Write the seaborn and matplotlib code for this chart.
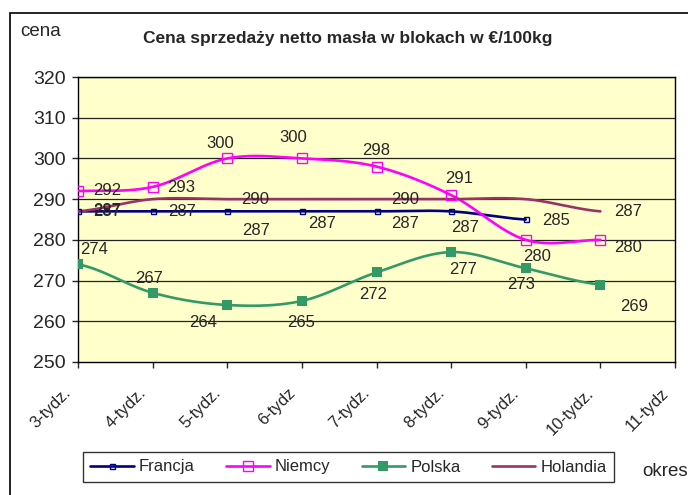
import numpy as np
import pandas as pd
import matplotlib
matplotlib.use('Agg')
import matplotlib.pyplot as plt
import matplotlib.transforms as mtransforms
from matplotlib.lines import Line2D
from matplotlib.patches import Rectangle
import seaborn as sns

weeks = ['3-tydz.', '4-tydz.', '5-tydz.', '6-tydz', '7-tydz.', '8-tydz.',
         '9-tydz.', '10-tydz.', '11-tydz']
francja = [287, 287, 287, 287, 287, 287, 285]
niemcy = [292, 293, 300, 300, 298, 291, 280, 280]
polska = [274, 267, 264, 265, 272, 277, 273, 269]
holandia = [287, 290, 290, 290, 290, 290, 290, 287]

series = {'Francja': francja, 'Niemcy': niemcy, 'Polska': polska, 'Holandia': holandia}
colors = {'Francja': '#000080', 'Niemcy': '#FF00FF', 'Polska': '#339966', 'Holandia': '#993366'}

# which points get a value label, and where (pixel offsets from the point)
label_offsets = {
    'Francja': [(29, 0), (29, 0), (29, -19), (20, -12), (29, -12), (14, -16), (30, -1)],
    'Niemcy': [(29, 0), (29, -1), (-7, 15), (-9, 21), (0, 16), (8, 17), (11, -17), (28, -8)],
    'Polska': [(16, 15), (-4, 14), (-24, -18), (-1, -22), (-3, -22), (12, -17), (-5, -16), (34, -22)],
    'Holandia': [(29, 1), None, (28, 0), None, (29, 0), None, None, (28, 0)],
}


def smooth(vals, n=25):
    # excel-like smoothed line (catmull-rom bezier through the points)
    y = np.asarray(vals, float)
    p = np.r_[y[0], y, y[-1]]
    t = np.linspace(0, 1, n)
    xs, ys = [], []
    for i in range(len(y) - 1):
        p0, p1, p2, p3 = p[i], p[i + 1], p[i + 2], p[i + 3]
        c1 = p1 + (p2 - p0) / 6
        c2 = p2 - (p3 - p1) / 6
        b = (1 - t) ** 3 * p1 + 3 * (1 - t) ** 2 * t * c1 + 3 * (1 - t) * t ** 2 * c2 + t ** 3 * p2
        xs.extend(i + t)
        ys.extend(b)
    return xs, ys


rows = []
for name, vals in series.items():
    xs, ys = smooth(vals)
    rows += [{'kraj': name, 'x': a, 'cena': b} for a, b in zip(xs, ys)]
curves = pd.DataFrame(rows)

sns.set_style('white')
plt.rcParams['font.family'] = ['Liberation Sans', 'DejaVu Sans']

fig = plt.figure(figsize=(6.88, 4.95), dpi=100)
ax = fig.add_axes([78 / 688, 1 - 362 / 495, 597 / 688, 285 / 495])
ax.set_facecolor('#FFFFCC')

for y in range(260, 321, 10):
    ax.axhline(y, color='#222222', lw=0.9, zorder=1)

sns.lineplot(data=curves, x='x', y='cena', hue='kraj', palette=colors,
             sort=False, estimator=None, lw=1.9, legend=False, ax=ax, zorder=3)

mk = {'Francja': dict(marker='s', ms=3.6, mfc='none', mew=1.0),
      'Niemcy': dict(marker='s', ms=6.5, mfc='none', mew=1.0),
      'Polska': dict(marker='s', ms=6.5, mfc='#339966', mew=0),
      'Holandia': dict(marker='None')}
for name, vals in series.items():
    ax.plot(range(len(vals)), vals, ls='none', color=colors[name], zorder=4, **mk[name])
    for i, v in enumerate(vals):
        off = label_offsets[name][i]
        if off is None:
            continue
        ax.annotate(str(v), (i, v), xytext=off, textcoords='offset pixels',
                    ha='center', va='center', fontsize=12, zorder=5)

ax.set_xlim(0, 8)
ax.set_ylim(250, 320)
ax.set_xticks(range(len(weeks)))
ax.set_xticklabels(weeks, rotation=45, ha='right', fontsize=12)
ax.set_yticks(range(250, 321, 10))
ax.tick_params(axis='y', labelsize=14, length=4, width=1, pad=5, left=True, direction='out')
ax.tick_params(axis='x', length=4, width=1, pad=13, bottom=True, direction='out')
shift = mtransforms.ScaledTranslation(-4 / 100, 0, fig.dpi_scale_trans)
for lab in ax.get_xticklabels():
    lab.set_transform(lab.get_transform() + shift)
ax.set_xlabel('')
ax.set_ylabel('')
for s in ax.spines.values():
    s.set_color('black')
    s.set_linewidth(1)

fig.text(348 / 688, 1 - 38 / 495, 'Cena sprzedaży netto masła w blokach w €/100kg',
         ha='center', va='center', fontsize=12.5, fontweight='bold')
fig.text(41 / 688, 1 - 32 / 495, 'cena', ha='center', va='center', fontsize=13.5)
fig.text(642 / 688, 1 - 472 / 495, 'okres', ha='left', va='center', fontsize=13.5)

handles = [Line2D([], [], color=colors[n], lw=1.9, **mk[n]) for n in series]
leg = fig.legend(handles, list(series), loc='center', ncol=4,
                 bbox_to_anchor=(348.5 / 688, 1 - 467 / 495), frameon=True,
                 fancybox=False, edgecolor='black', fontsize=12,
                 handlelength=2.6, columnspacing=1.9, handletextpad=0.3,
                 borderpad=0.45)
leg.get_frame().set_linewidth(1)

fig.patches.append(Rectangle((10 / 688, -0.1), 1.2, 1.1 - 13 / 495, fill=False,
                             edgecolor='black', lw=1.2, transform=fig.transFigure))

fig.savefig('out.png', dpi=100)
